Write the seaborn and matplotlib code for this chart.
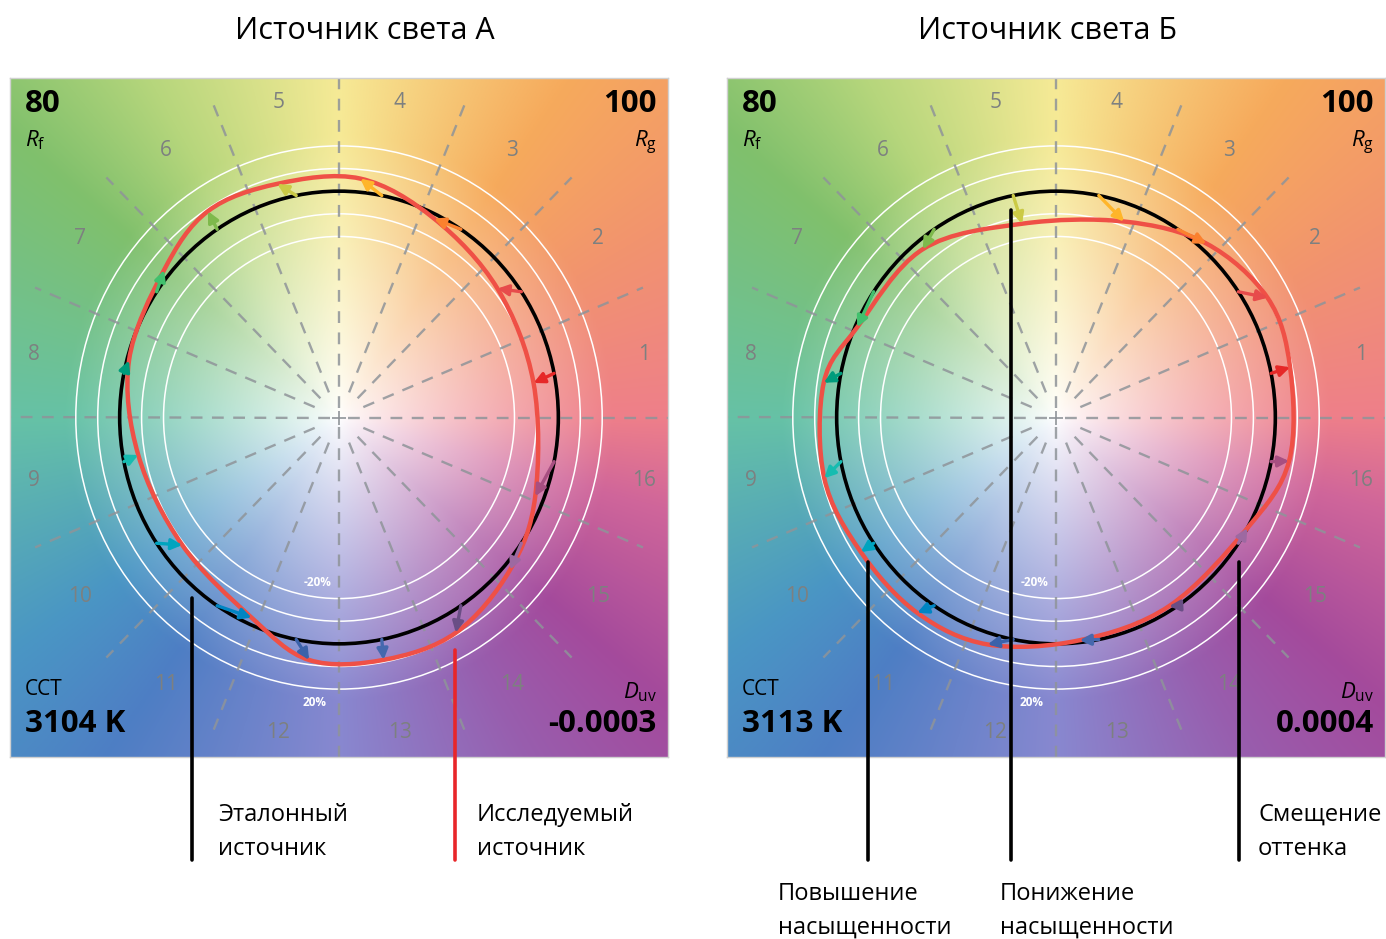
# -*- coding: utf-8 -*-
"""
    TM-30 色矢量图：两个光源的对比
"""
import numpy as np
import pandas as pd
import matplotlib
matplotlib.use('Agg')
import matplotlib.pyplot as plt
import seaborn as sns
from matplotlib.path import Path
from matplotlib.patches import PathPatch

# 数据
bins = list(range(1, 17))
bin_colors = ['#e62828', '#e74b4b', '#fb812e', '#ffb529', '#cbca46', '#7eb94c', '#41c06d', '#009c7c',
              '#16bcb0', '#00a4bf', '#0085c3', '#3b62aa', '#4568ae', '#6a4e85', '#9d69a1', '#a74f81']

titles = ['Источник света А', 'Источник света Б']
rf_values = ['80', '80']
rg_values = ['100', '100']
cct_values = ['3104 K', '3113 K']
duv_values = ['-0.0003', '0.0004']

# 相对色度偏移 与 色相偏移（度）
chroma_shift_a = [-0.10, -0.08, -0.02, 0.06, 0.07, 0.09, 0.03, -0.01,
                  -0.07, -0.09, -0.03, 0.08, 0.09, 0.09, 0.03, -0.04]
hue_shift_a = [-1.5, 4.5, 7.5, 6.0, 4.0, -0.5, -5.5, -3.5,
               -1.0, 4.5, 9.5, 4.0, -0.5, -4.5, -7.0, -10.0]
chroma_shift_b = [0.09, 0.10, 0.03, -0.08, -0.13, -0.04, -0.01, 0.07,
                  0.09, 0.07, 0.07, 0.05, -0.01, -0.02, 0.00, 0.08]
hue_shift_b = [0.5, -5.0, -8.0, -8.5, -1.0, 5.5, 10.0, 3.0,
               3.0, 0.0, -2.5, -6.0, -5.0, -2.0, 4.5, 1.0]

# 背景色轮
bg_angles = [0, 30, 55, 90, 120, 140, 180, 215, 235, 270, 300, 320, 345, 360]
bg_colors = ['#ee7f8a', '#f2946e', '#f6aa5c', '#f6ea96', '#b6d67c', '#80c06c', '#66c2a6',
             '#4a96c4', '#4e7ec4', '#8888d0', '#985eae', '#a44a9c', '#d0669a', '#ee7f8a']

sns.set_theme(style='white')
plt.rcParams['font.family'] = ['Open Sans', 'DejaVu Sans']
plt.rcParams['text.color'] = 'black'
plt.rcParams['mathtext.fontset'] = 'custom'
plt.rcParams['mathtext.it'] = 'Open Sans:italic'
plt.rcParams['mathtext.rm'] = 'Open Sans'


def make_background(n=500):
    g = np.linspace(-1.5, 1.5, n)
    xx, yy = np.meshgrid(g, g)
    theta = np.degrees(np.arctan2(yy, xx)) % 360
    rr = np.hypot(xx, yy)
    rgb = np.array([matplotlib.colors.to_rgb(c) for c in bg_colors])
    img = np.zeros((n, n, 3))
    w = np.clip(rr / 1.25, 0, 1) ** 0.85
    for k in range(3):
        col = np.interp(theta, bg_angles, rgb[:, k])
        img[:, :, k] = 1 - w * (1 - col)
    return img


def smooth_closed_path(xs, ys):
    """
        Catmull-Rom 闭合曲线 -> 三次贝塞尔路径
    """
    pts = np.column_stack([xs, ys])
    n = len(pts)
    verts = [pts[0]]
    codes = [Path.MOVETO]
    for i in range(n):
        p0, p1, p2, p3 = pts[i - 1], pts[i], pts[(i + 1) % n], pts[(i + 2) % n]
        verts += [p1 + (p2 - p0) / 6, p2 - (p3 - p1) / 6, p2]
        codes += [Path.CURVE4] * 3
    return Path(verts, codes)


def draw_panel(ax, chroma, hue, idx):
    ax.imshow(make_background(), extent=[-1.5, 1.5, -1.5, 1.5], origin='lower', aspect='auto', zorder=0)

    # 白色刻度圆
    for r in [0.8, 0.9, 1.1, 1.2]:
        ax.add_patch(plt.Circle((0, 0), r, fill=False, color='white', lw=1.1, zorder=1))

    # 放射虚线（横竖线穿过中心，其余从中心附近开始）
    ray_ang = np.radians(np.arange(16) * 22.5)
    r0 = np.where(np.arange(16) % 4 == 0, 0.04, 0.12)
    rays = pd.DataFrame({
        'x': np.concatenate([r0 * np.cos(ray_ang), 1.5 * np.cos(ray_ang)]),
        'y': np.concatenate([r0 * np.sin(ray_ang), 1.5 * np.sin(ray_ang)]),
        'ray': np.concatenate([np.arange(16), np.arange(16)]),
    })
    sns.lineplot(data=rays, x='x', y='y', units='ray', estimator=None, sort=False, ax=ax,
                 color='#8f9499', lw=1.7, linestyle=(0, (5, 4)), alpha=0.85, zorder=2)
    ax.plot([0], [0], marker='+', color='#8f9499', ms=10, mew=1.2, zorder=2)

    # 色相区间编号
    for b in bins:
        a = np.radians((b - 0.5) * 22.5)
        ax.text(1.42 * np.cos(a), 1.42 * np.sin(a), str(b), ha='center', va='center',
                fontsize=15, color='#7d8080', zorder=2)

    ax.text(-0.1, -0.73, '-20%', color='white', fontsize=8.5, fontweight='bold', ha='center', va='center', zorder=2)
    ax.text(-0.11, -1.26, '20%', color='white', fontsize=8.5, fontweight='bold', ha='center', va='center', zorder=2)

    # 参考光源
    ax.add_patch(plt.Circle((0, 0), 1.0, fill=False, color='black', lw=2.6, zorder=3))

    # 测试光源
    centers = np.radians((np.array(bins) - 0.5) * 22.5)
    ang = centers + np.radians(hue)
    rad = 1 + np.array(chroma)
    tx, ty = rad * np.cos(ang), rad * np.sin(ang)
    ax.add_patch(PathPatch(smooth_closed_path(tx, ty), fill=False, edgecolor='#ef5046', lw=3.2, zorder=4))

    for i in range(16):
        ax.annotate('', xy=(tx[i], ty[i]), xytext=(np.cos(centers[i]), np.sin(centers[i])),
                    arrowprops=dict(arrowstyle='-|>', color=bin_colors[i], lw=2.4,
                                    mutation_scale=16, shrinkA=0, shrinkB=0), zorder=5)

    ax.set_xlim(-1.5, 1.5)
    ax.set_ylim(-1.5, 1.5)
    ax.set_xticks([])
    ax.set_yticks([])
    ax.set_xlabel('')
    ax.set_ylabel('')
    for s in ax.spines.values():
        s.set_color('#d0d0d0')
        s.set_linewidth(1)

    tr = ax.transAxes
    ax.text(0.023, 0.962, rf_values[idx], transform=tr, fontsize=22.5, fontweight='bold', va='center', ha='left')
    ax.text(0.023, 0.909, r'$R_\mathrm{f}$', transform=tr, fontsize=16, va='center', ha='left')
    ax.text(0.983, 0.962, rg_values[idx], transform=tr, fontsize=22.5, fontweight='bold', va='center', ha='right')
    ax.text(0.983, 0.905, r'$R_\mathrm{g}$', transform=tr, fontsize=16, va='center', ha='right')
    ax.text(0.023, 0.099, 'CCT', transform=tr, fontsize=15, va='center', ha='left')
    ax.text(0.023, 0.049, cct_values[idx], transform=tr, fontsize=22.5, fontweight='bold', va='center', ha='left')
    ax.text(0.983, 0.096, r'$D_\mathrm{uv}$', transform=tr, fontsize=16, va='center', ha='right')
    ax.text(0.983, 0.049, duv_values[idx], transform=tr, fontsize=22.5, fontweight='bold', va='center', ha='right')


def main():
    fig = plt.figure(figsize=(13.86, 9.39), dpi=100)
    W, H = 1386, 939
    ax_a = fig.add_axes([10 / W, 1 - 757 / H, 658 / W, 679 / H])
    ax_b = fig.add_axes([727 / W, 1 - 757 / H, 658 / W, 679 / H])
    draw_panel(ax_a, chroma_shift_a, hue_shift_a, 0)
    draw_panel(ax_b, chroma_shift_b, hue_shift_b, 1)

    # 注释层（像素坐标）
    ov = fig.add_axes([0, 0, 1, 1], zorder=10)
    ov.set_xlim(0, W)
    ov.set_ylim(H, 0)
    ov.axis('off')
    ov.patch.set_alpha(0)

    ov.text(365, 31, titles[0], fontsize=22, ha='center', va='center')
    ov.text(1048, 31, titles[1], fontsize=22, ha='center', va='center')

    ov.plot([192, 192], [598, 860], color='black', lw=2.6)
    ov.plot([455, 455], [650, 860], color='#e8262a', lw=2.6)
    ov.plot([868, 868], [562, 860], color='black', lw=2.6)
    ov.plot([1011, 1011], [210, 860], color='black', lw=2.6)
    ov.plot([1239, 1239], [562, 860], color='black', lw=2.6)

    notes = [(218, 815, 'Эталонный'), (218, 849, 'источник'),
             (477, 815, 'Исследуемый'), (477, 849, 'источник'),
             (1258, 815, 'Смещение'), (1258, 849, 'оттенка'),
             (778, 894, 'Повышение'), (778, 928, 'насыщенности'),
             (1000, 894, 'Понижение'), (1000, 928, 'насыщенности')]
    for x, y, t in notes:
        ov.text(x, y, t, fontsize=17, ha='left', va='center')

    fig.savefig('out.png', dpi=100)


if __name__ == '__main__':
    main()
